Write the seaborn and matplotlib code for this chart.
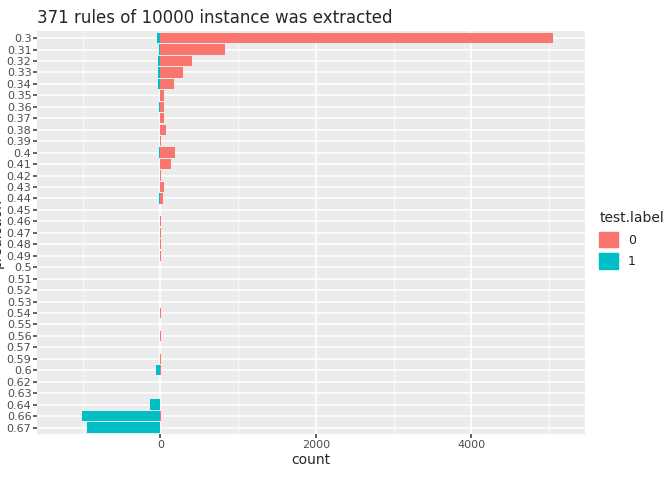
import matplotlib
matplotlib.use("Agg")
import matplotlib.pyplot as plt
import seaborn as sns
import pandas as pd
import numpy as np
from matplotlib.patches import Patch

preds = ["0.3","0.31","0.32","0.33","0.34","0.35","0.36","0.37","0.38","0.39","0.4","0.41","0.42","0.43","0.44","0.45","0.46","0.47","0.48","0.49","0.5","0.51","0.52","0.53","0.54","0.55","0.56","0.57","0.59","0.6","0.62","0.63","0.64","0.66","0.67"]
count0 = [5050,833,410,295,180,50,50,50,65,10,190,130,8,50,30,0,6,6,6,6,0,0,0,0,6,0,6,0,10,6,0,0,0,6,0]
count1 = [-50,-20,-30,-30,-30,0,-20,0,0,0,-20,0,0,0,-20,0,0,0,0,0,0,0,0,0,0,0,0,0,0,-60,0,0,-130,-1010,-950]

df = pd.DataFrame({"prediction": preds*2, "count": count0+count1,
                   "test.label": ["0"]*len(preds)+["1"]*len(preds)})

sns.set_theme(style="darkgrid", rc={"axes.facecolor":"#EBEBEB","grid.color":"white"})
fig, ax = plt.subplots(figsize=(6.72,4.8), dpi=100)
pal = {"0":"#F8766D","1":"#00BFC4"}
sns.barplot(data=df, y="prediction", x="count", hue="test.label", order=preds,
            palette=pal, dodge=False, width=0.9, ax=ax, legend=False, orient="h",
            saturation=1, linewidth=0, edgecolor="none")
ax.set_xlim(-1590, 5460)
ax.set_ylim(len(preds)-0.4, -0.6)
ax.set_xticks([0,2000,4000])
ax.set_xticks([-1000,1000,3000,5000], minor=True)
ax.grid(True, which="major", color="white", lw=1.1)
ax.grid(True, which="minor", axis="x", color="white", lw=0.5)
ax.set_axisbelow(True)
for s in ax.spines.values(): s.set_visible(False)
ax.tick_params(axis="both", labelsize=8, colors="#4D4D4D", length=3, which="major", left=True, bottom=True, pad=1)
ax.tick_params(which="minor", length=0)
ax.set_xlabel("count", fontsize=10, labelpad=2)
ax.set_ylabel("prediction", fontsize=10, labelpad=2)
ax.set_title("371 rules of 10000 instance was extracted", fontsize=12, loc="left", pad=6)
handles = [Patch(color=pal["0"], label="0"), Patch(color=pal["1"], label="1")]
leg = fig.legend(handles=handles, title="test.label", loc="center left", bbox_to_anchor=(0.875,0.5),
                 frameon=False, fontsize=9, title_fontsize=10, handlelength=1.5, handleheight=1.5)
leg._legend_box.align = "left"
fig.subplots_adjust(left=0.055, right=0.87, top=0.935, bottom=0.095)
fig.savefig("out.png", dpi=100)
